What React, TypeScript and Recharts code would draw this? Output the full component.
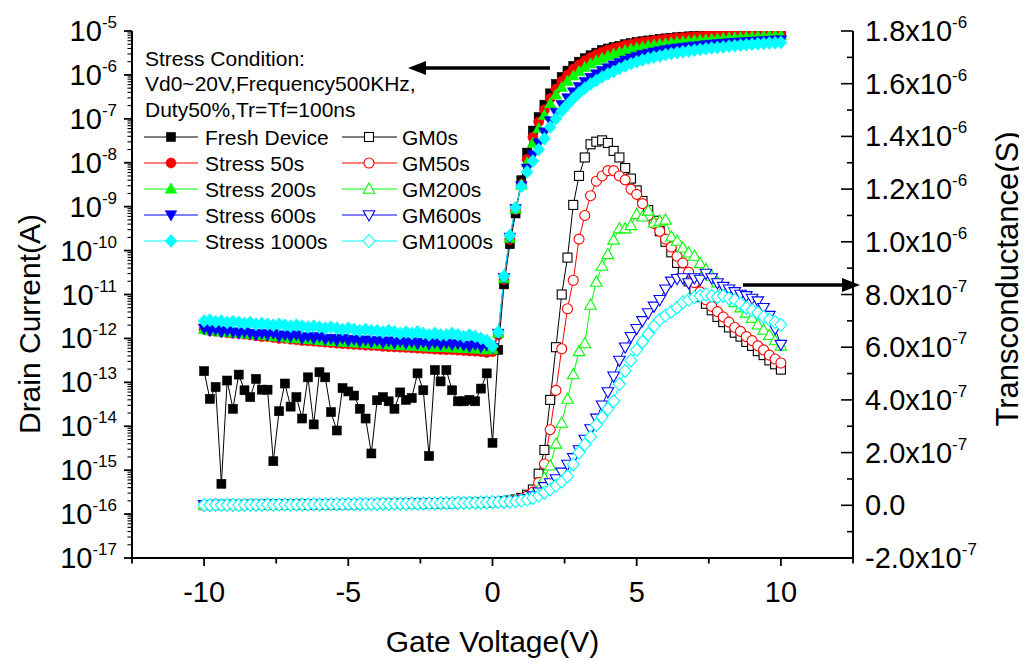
import React from "react";
import { LineChart, Line, XAxis, YAxis } from "recharts";

const FONT = "'Liberation Sans', Arial, Helvetica, sans-serif";

// gate voltage (V), one point every 0.2 V
const volts = [
  -10, -9.8, -9.6, -9.4, -9.2, -9, -8.8, -8.6, -8.4, -8.2,
  -8, -7.8, -7.6, -7.4, -7.2, -7, -6.8, -6.6, -6.4, -6.2,
  -6, -5.8, -5.6, -5.4, -5.2, -5, -4.8, -4.6, -4.4, -4.2,
  -4, -3.8, -3.6, -3.4, -3.2, -3, -2.8, -2.6, -2.4, -2.2,
  -2, -1.8, -1.6, -1.4, -1.2, -1, -0.8, -0.6, -0.4, -0.2,
  0, 0.2, 0.4, 0.6, 0.8, 1, 1.2, 1.4, 1.6, 1.8, 2,
  2.2, 2.4, 2.6, 2.8, 3, 3.2, 3.4, 3.6, 3.8, 4,
  4.2, 4.4, 4.6, 4.8, 5, 5.2, 5.4, 5.6, 5.8, 6,
  6.2, 6.4, 6.6, 6.8, 7, 7.2, 7.4, 7.6, 7.8, 8,
  8.2, 8.4, 8.6, 8.8, 9, 9.2, 9.4, 9.6, 9.8, 10,
];

// drain current (A), -10 V .. 0 V
const freshIdOff = [
  1.8e-13, 4.2e-14, 7.8e-14, 4.9e-16, 1.1e-13, 2.5e-14, 1.5e-13, 6.6e-14, 4.6e-14, 1.2e-13,
  6.8e-14, 6.8e-14, 1.6e-15, 2.2e-14, 9.4e-14, 2.8e-14, 4.6e-14, 1.5e-14, 1.3e-13, 1.1e-14,
  1.7e-13, 1.3e-13, 2.1e-14, 8.0e-15, 7.4e-14, 6.2e-14, 5.0e-14, 2.5e-14, 1.5e-14, 2.4e-15,
  3.9e-14, 4.6e-14, 3.7e-14, 2.5e-14, 5.9e-14, 4.0e-14, 4.4e-14, 1.6e-13, 6.6e-14, 2.1e-15,
  1.9e-13, 1.05e-13, 1.9e-13, 6.6e-14, 3.7e-14, 3.7e-14, 4.0e-14, 3.7e-14, 7.2e-14, 1.6e-13, 4.2e-15,
];
const s50IdOff = [
  1.6e-12, 1.5e-12, 1.45e-12, 1.4e-12, 1.35e-12, 1.3e-12, 1.3e-12, 1.25e-12, 1.2e-12, 1.15e-12,
  1.1e-12, 1.1e-12, 1.05e-12, 1.0e-12, 1.0e-12, 9.6e-13, 9.3e-13, 9.0e-13, 8.8e-13, 8.6e-13,
  8.4e-13, 8.2e-13, 8.0e-13, 7.8e-13, 7.6e-13, 7.5e-13, 7.3e-13, 7.2e-13, 7.0e-13, 6.9e-13,
  6.8e-13, 6.6e-13, 6.5e-13, 6.4e-13, 6.3e-13, 6.2e-13, 6.1e-13, 6.0e-13, 5.9e-13, 5.8e-13,
  5.7e-13, 5.6e-13, 5.5e-13, 5.5e-13, 5.4e-13, 5.3e-13, 5.2e-13, 5.1e-13, 5.0e-13, 4.8e-13, 5.0e-13,
];
const s200IdOff = [
  1.6e-12, 1.5e-12, 1.5e-12, 1.4e-12, 1.4e-12, 1.35e-12, 1.3e-12, 1.3e-12, 1.25e-12, 1.2e-12,
  1.2e-12, 1.15e-12, 1.1e-12, 1.1e-12, 1.05e-12, 1.0e-12, 1.0e-12, 9.8e-13, 9.5e-13, 9.3e-13,
  9.0e-13, 8.8e-13, 8.6e-13, 8.5e-13, 8.3e-13, 8.1e-13, 8.0e-13, 7.8e-13, 7.7e-13, 7.5e-13,
  7.4e-13, 7.3e-13, 7.2e-13, 7.0e-13, 6.9e-13, 6.8e-13, 6.7e-13, 6.6e-13, 6.5e-13, 6.4e-13,
  6.3e-13, 6.3e-13, 6.2e-13, 6.1e-13, 6.0e-13, 6.0e-13, 5.9e-13, 5.8e-13, 5.7e-13, 5.5e-13, 5.6e-13,
];
const s600IdOff = [
  1.7e-12, 1.5e-12, 1.6e-12, 1.4e-12, 1.5e-12, 1.4e-12, 1.3e-12, 1.4e-12, 1.3e-12, 1.2e-12,
  1.3e-12, 1.2e-12, 1.3e-12, 1.1e-12, 1.2e-12, 1.1e-12, 1.2e-12, 1.0e-12, 1.1e-12, 1.0e-12,
  1.1e-12, 9.5e-13, 1.0e-12, 9.0e-13, 1.0e-12, 8.8e-13, 9.5e-13, 8.5e-13, 9.2e-13, 8.3e-13,
  9.0e-13, 8.0e-13, 8.7e-13, 7.8e-13, 8.5e-13, 7.7e-13, 8.3e-13, 7.5e-13, 8.2e-13, 7.4e-13,
  8.0e-13, 7.3e-13, 7.8e-13, 7.2e-13, 7.6e-13, 7.0e-13, 6.5e-13, 7.2e-13, 6.4e-13, 7.0e-13, 6.2e-13,
];
const s1000IdOff = [
  2.5e-12, 2.6e-12, 2.4e-12, 2.5e-12, 2.3e-12, 2.4e-12, 2.3e-12, 2.2e-12, 2.3e-12, 2.1e-12,
  2.2e-12, 2.1e-12, 2.0e-12, 2.1e-12, 2.0e-12, 1.9e-12, 2.0e-12, 1.9e-12, 1.8e-12, 1.9e-12,
  1.8e-12, 1.7e-12, 1.8e-12, 1.7e-12, 1.6e-12, 1.7e-12, 1.6e-12, 1.5e-12, 1.6e-12, 1.5e-12,
  1.5e-12, 1.4e-12, 1.5e-12, 1.4e-12, 1.3e-12, 1.4e-12, 1.3e-12, 1.4e-12, 1.3e-12, 1.2e-12,
  1.3e-12, 1.2e-12, 1.2e-12, 1.3e-12, 1.2e-12, 1.1e-12, 1.2e-12, 1.1e-12, 1.0e-12, 9.0e-13, 6.6e-13,
];

// drain current (A), 0.2 V .. 10 V
const freshIdOn = [
  5.5e-13, 1.7e-11, 1.4e-10, 7.0e-10, 4.0e-9, 1.7e-8, 5.4e-8, 1.1e-7, 2.1e-7, 3.8e-7,
  6.2e-7, 9.0e-7, 1.25e-6, 1.6e-6, 2.0e-6, 2.4e-6, 2.8e-6, 3.2e-6, 3.7e-6, 4.0e-6,
  4.3e-6, 4.6e-6, 5.0e-6, 5.3e-6, 5.6e-6, 5.85e-6, 6.1e-6, 6.35e-6, 6.6e-6, 6.8e-6,
  7.0e-6, 7.2e-6, 7.4e-6, 7.55e-6, 7.7e-6, 7.85e-6, 8.0e-6, 8.1e-6, 8.25e-6, 8.35e-6,
  8.5e-6, 8.6e-6, 8.7e-6, 8.8e-6, 8.9e-6, 8.95e-6, 9.05e-6, 9.1e-6, 9.2e-6, 9.3e-6,
];
const s50IdOn = [
  1.2e-12, 2.2e-11, 1.8e-10, 8.5e-10, 3.2e-9, 1.2e-8, 3.8e-8, 8.5e-8, 1.6e-7, 2.9e-7,
  4.8e-7, 7.2e-7, 1.0e-6, 1.35e-6, 1.7e-6, 2.1e-6, 2.5e-6, 2.9e-6, 3.3e-6, 3.7e-6,
  4.0e-6, 4.35e-6, 4.7e-6, 5.0e-6, 5.3e-6, 5.55e-6, 5.8e-6, 6.05e-6, 6.3e-6, 6.5e-6,
  6.7e-6, 6.9e-6, 7.1e-6, 7.25e-6, 7.4e-6, 7.55e-6, 7.7e-6, 7.85e-6, 7.95e-6, 8.1e-6,
  8.2e-6, 8.3e-6, 8.4e-6, 8.5e-6, 8.6e-6, 8.7e-6, 8.75e-6, 8.85e-6, 8.9e-6, 9.0e-6,
];
const s200IdOn = [
  1.3e-12, 2.3e-11, 1.9e-10, 8.8e-10, 3.1e-9, 1.0e-8, 2.8e-8, 6.0e-8, 1.2e-7, 2.2e-7,
  3.5e-7, 5.2e-7, 7.2e-7, 9.5e-7, 1.2e-6, 1.5e-6, 1.8e-6, 2.1e-6, 2.4e-6, 2.7e-6,
  3.0e-6, 3.3e-6, 3.6e-6, 3.85e-6, 4.1e-6, 4.35e-6, 4.6e-6, 4.8e-6, 5.0e-6, 5.2e-6,
  5.4e-6, 5.6e-6, 5.75e-6, 5.9e-6, 6.05e-6, 6.2e-6, 6.35e-6, 6.5e-6, 6.65e-6, 6.8e-6,
  6.9e-6, 7.05e-6, 7.15e-6, 7.3e-6, 7.4e-6, 7.5e-6, 7.65e-6, 7.75e-6, 7.85e-6, 7.95e-6,
];
const s600IdOn = [
  1.3e-12, 2.4e-11, 2.0e-10, 9.0e-10, 3.0e-9, 7.5e-9, 1.5e-8, 2.8e-8, 5.0e-8, 9.0e-8,
  1.4e-7, 2.1e-7, 3.0e-7, 4.1e-7, 5.4e-7, 7.0e-7, 8.7e-7, 1.05e-6, 1.25e-6, 1.45e-6,
  1.67e-6, 1.9e-6, 2.15e-6, 2.4e-6, 2.65e-6, 2.9e-6, 3.1e-6, 3.3e-6, 3.5e-6, 3.7e-6,
  3.9e-6, 4.05e-6, 4.2e-6, 4.35e-6, 4.5e-6, 4.65e-6, 4.8e-6, 4.95e-6, 5.1e-6, 5.2e-6,
  5.35e-6, 5.45e-6, 5.55e-6, 5.65e-6, 5.75e-6, 5.85e-6, 5.95e-6, 6.05e-6, 6.15e-6, 6.25e-6,
];
const s1000IdOn = [
  1.4e-12, 2.6e-11, 2.2e-10, 9.5e-10, 2.9e-9, 6.2e-9, 1.1e-8, 2.0e-8, 3.5e-8, 6.5e-8,
  1.0e-7, 1.5e-7, 2.1e-7, 2.9e-7, 3.9e-7, 5.0e-7, 6.2e-7, 7.5e-7, 9.0e-7, 1.05e-6,
  1.2e-6, 1.4e-6, 1.6e-6, 1.8e-6, 2.0e-6, 2.2e-6, 2.4e-6, 2.55e-6, 2.7e-6, 2.9e-6,
  3.05e-6, 3.2e-6, 3.35e-6, 3.5e-6, 3.65e-6, 3.8e-6, 3.95e-6, 4.1e-6, 4.2e-6, 4.35e-6,
  4.5e-6, 4.6e-6, 4.75e-6, 4.85e-6, 5.0e-6, 5.1e-6, 5.2e-6, 5.3e-6, 5.4e-6, 5.5e-6,
];

// transconductance in units of 1e-7 S; -10 V .. 0 V (all five curves sit on this baseline)
const gmOffState = [
  0.01, 0.01, 0.02, 0.01, 0.02, 0.02, 0.01, 0.02, 0.02, 0.02,
  0.02, 0.03, 0.02, 0.03, 0.03, 0.02, 0.03, 0.03, 0.03, 0.04,
  0.03, 0.04, 0.04, 0.04, 0.04, 0.05, 0.04, 0.05, 0.05, 0.05,
  0.05, 0.06, 0.05, 0.06, 0.06, 0.06, 0.07, 0.06, 0.07, 0.07,
  0.07, 0.08, 0.08, 0.08, 0.09, 0.09, 0.09, 0.1, 0.1, 0.11, 0.12,
];

// transconductance in units of 1e-7 S; 0.2 V .. 10 V
const gm0On = [
  0.13, 0.15, 0.18, 0.22, 0.28, 0.4, 0.6, 1.2, 2.1, 4.0,
  6.0, 8.0, 9.4, 11.4, 12.5, 13.2, 13.7, 13.8, 13.85, 13.75,
  13.45, 13.2, 12.8, 12.4, 11.95, 11.55, 11.2, 10.8, 10.4, 10.0,
  9.6, 9.2, 8.85, 8.5, 8.2, 7.9, 7.65, 7.4, 7.15, 6.95,
  6.75, 6.55, 6.4, 6.2, 6.05, 5.85, 5.7, 5.5, 5.35, 5.15,
];
const gm50On = [
  0.12, 0.14, 0.16, 0.2, 0.25, 0.35, 0.5, 0.86, 1.57, 2.87,
  4.36, 5.94, 7.46, 8.54, 10.1, 11.0, 11.75, 12.3, 12.5, 12.7,
  12.7, 12.5, 12.35, 12.0, 11.8, 11.45, 11.0, 10.7, 10.4, 10.1,
  9.8, 9.45, 9.2, 8.85, 8.45, 8.1, 7.8, 7.55, 7.35, 7.15,
  6.95, 6.75, 6.6, 6.4, 6.25, 6.05, 5.9, 5.7, 5.55, 5.4,
];
const gm200On = [
  0.12, 0.13, 0.15, 0.17, 0.2, 0.25, 0.35, 0.6, 1.03, 1.5,
  2.33, 3.12, 4.03, 4.96, 5.84, 6.14, 7.6, 8.47, 9.08, 9.52,
  10.07, 10.5, 10.5, 10.62, 11.04, 10.95, 11.17, 10.72, 10.79, 10.83,
  10.19, 10.03, 9.77, 9.58, 9.46, 9.18, 8.95, 8.7, 8.45, 8.2,
  7.95, 7.7, 7.5, 7.3, 7.1, 6.85, 6.65, 6.45, 6.25, 6.05,
];
const gm600On = [
  0.12, 0.13, 0.14, 0.16, 0.2, 0.25, 0.35, 0.5, 0.7, 0.85,
  1.0, 1.25, 1.55, 1.8, 2.1, 2.5, 2.9, 3.3, 3.8, 4.3,
  4.9, 5.5, 6.0, 6.4, 6.7, 7.0, 7.3, 7.55, 7.8, 8.2,
  8.5, 8.6, 8.63, 8.44, 8.63, 8.57, 8.8, 8.63, 8.44, 8.3,
  8.2, 8.1, 8.0, 7.95, 7.85, 7.75, 7.5, 7.2, 6.7, 6.1,
];
const gm1000On = [
  0.12, 0.13, 0.14, 0.15, 0.18, 0.22, 0.28, 0.36, 0.48, 0.6,
  0.75, 0.9, 1.1, 1.55, 2.0, 2.3, 2.6, 3.05, 3.35, 3.65,
  3.95, 4.6, 5.1, 5.5, 5.9, 6.2, 6.5, 6.8, 7.05, 7.2,
  7.35, 7.5, 7.7, 7.8, 7.9, 7.95, 8.0, 7.95, 7.9, 7.95,
  7.85, 7.8, 7.65, 7.5, 7.4, 7.3, 7.15, 7.05, 6.95, 6.85,
];

const idNames = ["Fresh Device", "Stress 50s", "Stress 200s", "Stress 600s", "Stress 1000s"];
const gmNames = ["GM0s", "GM50s", "GM200s", "GM600s", "GM1000s"];
const colors = ["#000000", "#ff0000", "#00ff00", "#0000ff", "#00ffff"];
const shapes = ["square", "circle", "triangle", "down", "diamond"];

const idOff = [freshIdOff, s50IdOff, s200IdOff, s600IdOff, s1000IdOff];
const idOn = [freshIdOn, s50IdOn, s200IdOn, s600IdOn, s1000IdOn];
const gmOn = [gm0On, gm50On, gm200On, gm600On, gm1000On];

const noteLines = ["Stress Condition:", "Vd0~20V,Frequency500KHz,", "Duty50%,Tr=Tf=100ns"];

const xTicks = [-12.5, -10, -7.5, -5, -2.5, 0, 2.5, 5, 7.5, 10, 12.5];
const gmTicks = [-2, -1, 0, 1, 2, 3, 4, 5, 6, 7, 8, 9, 10, 11, 12, 13, 14, 15, 16, 17, 18];
const logTicks: number[] = [];
for (let e = -17; e <= -5; e++) {
  logTicks.push(Number(`1e${e}`));
  if (e < -5) for (let m = 2; m <= 9; m++) logTicks.push(Number(`${m}e${e}`));
}

const rows = volts.map((v, i) => {
  const row: Record<string, number> = { v };
  for (let k = 0; k < 5; k++) {
    row[`id${k}`] = idOff[k].concat(idOn[k])[i];
    row[`gm${k}`] = gmOffState.concat(gmOn[k])[i];
  }
  return row;
});

const Marker = ({ cx, cy, shape, color, filled }: any) => {
  const fill = filled ? color : "#ffffff";
  const sw = filled ? 0.6 : 1.1;
  if (cx == null || cy == null) return null;
  if (shape === "square")
    return <rect x={cx - 4.5} y={cy - 4.5} width={9} height={9} fill={fill} stroke={color} strokeWidth={sw} />;
  if (shape === "circle") return <circle cx={cx} cy={cy} r={5} fill={fill} stroke={color} strokeWidth={sw} />;
  if (shape === "triangle")
    return <path d={`M${cx},${cy - 6}L${cx + 5.8},${cy + 4.2}L${cx - 5.8},${cy + 4.2}Z`} fill={fill} stroke={color} strokeWidth={sw} />;
  if (shape === "down")
    return <path d={`M${cx},${cy + 6}L${cx + 5.8},${cy - 4.2}L${cx - 5.8},${cy - 4.2}Z`} fill={fill} stroke={color} strokeWidth={sw} />;
  return <path d={`M${cx},${cy - 6.5}L${cx + 6},${cy}L${cx},${cy + 6.5}L${cx - 6},${cy}Z`} fill={fill} stroke={color} strokeWidth={sw} />;
};

const LeftTick = ({ x, y, payload }: any) => {
  const e = Math.log10(payload.value);
  const major = Math.abs(e - Math.round(e)) < 1e-6;
  return (
    <g>
      <line x1={x - (major ? 8 : 4.5)} x2={x} y1={y} y2={y} stroke="#000" strokeWidth={major ? 1.8 : 1.1} />
      {major && (
        <text x={x - 15} y={y + 10} textAnchor="end" fontSize={29} fontFamily={FONT} fill="#000">
          10<tspan dy={-13} fontSize={17}>{Math.round(e)}</tspan>
        </text>
      )}
    </g>
  );
};

const RightTick = ({ x, y, payload }: any) => {
  const k = Math.round(payload.value);
  const major = k % 2 === 0;
  let mant = "";
  let exp = "";
  if (k === 0) mant = "0.0";
  else if (Math.abs(k) < 10) {
    mant = `${k.toFixed(1)}x10`;
    exp = "-7";
  } else {
    mant = `${(k / 10).toFixed(1)}x10`;
    exp = "-6";
  }
  return (
    <g>
      <line x1={x - (major ? 12 : 6)} x2={x} y1={y} y2={y} stroke="#000" strokeWidth={1.6} />
      {major && (
        <text x={x + 12} y={y + 10} fontSize={29} fontFamily={FONT} fill="#000">
          {mant}
          {exp && <tspan dy={-13} fontSize={17}>{exp}</tspan>}
        </text>
      )}
    </g>
  );
};

const BottomTick = ({ x, y, payload }: any) => {
  const v = payload.value;
  const major = v % 5 === 0;
  return (
    <g>
      <line x1={x} x2={x} y1={y} y2={y + (major ? 8 : 5.5)} stroke="#000" strokeWidth={1.8} />
      {major && (
        <text x={x} y={y + 44} textAnchor="middle" fontSize={29} fontFamily={FONT} fill="#000">
          {v}
        </text>
      )}
    </g>
  );
};

const Overlay = () => {
  const rowY = [129, 155, 181, 207, 233];
  return (
    <svg width={1019} height={653} style={{ position: "absolute", left: 0, top: 0, pointerEvents: "none" }}>
      <g fontFamily={FONT} fill="#000">
        {noteLines.map((t, i) => (
          <text key={t} x={137} y={[50, 75, 101][i] + 7.5} fontSize={21}>
            {t}
          </text>
        ))}
        {idNames.map((n, i) => (
          <g key={n}>
            <line x1={136} x2={190} y1={rowY[i]} y2={rowY[i]} stroke={colors[i]} strokeWidth={1} />
            <Marker cx={163} cy={rowY[i]} shape={shapes[i]} color={colors[i]} filled />
            <text x={197} y={rowY[i] + 7.5} fontSize={21}>
              {n}
            </text>
            <line x1={334} x2={389} y1={rowY[i]} y2={rowY[i]} stroke={colors[i]} strokeWidth={1} />
            <Marker cx={361} cy={rowY[i]} shape={shapes[i]} color={colors[i]} />
            <text x={394} y={rowY[i] + 7.5} fontSize={21}>
              {gmNames[i]}
            </text>
          </g>
        ))}
        <text transform="translate(32,316) rotate(-90)" textAnchor="middle" fontSize={30}>
          Drain Current(A)
        </text>
        <text transform="translate(1010,271) rotate(-90)" textAnchor="middle" fontSize={31}>
          Transconductance(S)
        </text>
        <text x={484.5} y={643.5} textAnchor="middle" fontSize={30}>
          Gate Voltage(V)
        </text>
      </g>
      <line x1={414} x2={542} y1={60} y2={60} stroke="#000" strokeWidth={3.5} />
      <polygon points="400,60 418,53 418,67" fill="#000" />
      <line x1={735} x2={838} y1={277} y2={277} stroke="#000" strokeWidth={3.5} />
      <polygon points="852,277 834,270 834,284" fill="#000" />
    </svg>
  );
};

export default function App() {
  return (
    <div style={{ position: "relative", width: 1019, height: 653 }}>
      <LineChart width={1019} height={653} data={rows} margin={{ top: 23, right: 0, bottom: 0, left: 0 }}>
        <XAxis
          type="number"
          dataKey="v"
          domain={[-12.5, 12.5]}
          ticks={xTicks}
          interval={0}
          height={103}
          tickSize={0}
          tickMargin={0}
          tickLine={false}
          axisLine={{ stroke: "#000", strokeWidth: 2 }}
          tick={<BottomTick />}
        />
        <YAxis
          yAxisId="id"
          scale="log"
          domain={[1e-17, 1e-5]}
          allowDataOverflow
          ticks={logTicks}
          interval={0}
          width={124}
          tickSize={0}
          tickMargin={0}
          tickLine={false}
          axisLine={{ stroke: "#000", strokeWidth: 2 }}
          tick={<LeftTick />}
        />
        <YAxis
          yAxisId="gm"
          orientation="right"
          domain={[-2, 18]}
          ticks={gmTicks}
          interval={0}
          width={174}
          tickSize={0}
          tickMargin={0}
          tickLine={false}
          axisLine={{ stroke: "#000", strokeWidth: 2 }}
          tick={<RightTick />}
        />
        {colors.map((c, k) => (
          <Line
            key={`id${k}`}
            yAxisId="id"
            dataKey={`id${k}`}
            stroke={c}
            strokeWidth={1}
            isAnimationActive={false}
            activeDot={false}
            dot={(p: any) => <Marker key={`idm${k}-${p.index}`} cx={p.cx} cy={p.cy} shape={shapes[k]} color={c} filled />}
          />
        ))}
        {colors.map((c, k) => (
          <Line
            key={`gm${k}`}
            yAxisId="gm"
            dataKey={`gm${k}`}
            stroke={c}
            strokeWidth={1}
            isAnimationActive={false}
            activeDot={false}
            dot={(p: any) => <Marker key={`gmm${k}-${p.index}`} cx={p.cx} cy={p.cy} shape={shapes[k]} color={c} />}
          />
        ))}
      </LineChart>
      <Overlay />
    </div>
  );
}
